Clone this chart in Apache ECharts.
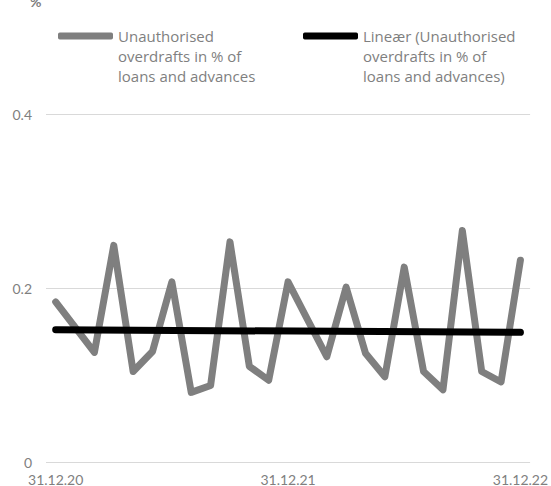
<!DOCTYPE html>
<html>
<head>
<meta charset="utf-8">
<script src="https://cdn.jsdelivr.net/npm/echarts@6/dist/echarts.min.js"></script>
<style>
  html, body { margin: 0; padding: 0; background: #fff; }
  #chart { width: 551px; height: 486px; }
</style>
</head>
<body>
<div id="chart"></div>
<script>
// month-end dates, Dec 2020 .. Dec 2022
const categories = [
  '31.12.20', '31.01.21', '28.02.21', '31.03.21', '30.04.21', '31.05.21', '30.06.21',
  '31.07.21', '31.08.21', '30.09.21', '31.10.21', '30.11.21', '31.12.21',
  '31.01.22', '28.02.22', '31.03.22', '30.04.22', '31.05.22', '30.06.22',
  '31.07.22', '31.08.22', '30.09.22', '31.10.22', '30.11.22', '31.12.22'
];
const overdrafts = [
  0.184, 0.155, 0.126, 0.249, 0.104, 0.127, 0.207, 0.080, 0.088, 0.253, 0.110, 0.094,
  0.207, 0.164, 0.121, 0.201, 0.125, 0.098, 0.224, 0.104, 0.083, 0.266, 0.104, 0.092, 0.232
];
const trend = [0.152, null, null, null, null, null, null, null, null, null, null, null,
  null, null, null, null, null, null, null, null, null, null, null, null, 0.149];
const yTicks = [0, 0.2, 0.4];

const seriesNames = [
  'Unauthorised\noverdrafts in % of\nloans and advances',
  'Lineær (Unauthorised\noverdrafts in % of\nloans and advances)'
];

const font = 'Lato, "Open Sans", sans-serif';
const grey = '#7f7f7f';

const chart = echarts.init(document.getElementById('chart'), null, { renderer: 'svg' });

// echarts centres the legend text on the icon; two empty lines in front
// bring the first real line level with the icon
const legendBase = {
  top: -14, padding: 0,
  itemWidth: 55, itemHeight: 7,
  icon: 'roundRect',
  selectedMode: false,
  formatter: (name) => '\n\n' + name,
  textStyle: {
    color: grey,
    fontFamily: '"Open Sans", sans-serif',
    fontSize: 15,
    lineHeight: 20
  }
};

chart.setOption({
  animation: false,
  title: {
    text: '%',
    left: 25,
    top: -11,
    textStyle: { color: grey, fontFamily: font, fontSize: 14, fontWeight: 'bold' }
  },
  legend: [
    Object.assign({}, legendBase, { data: [seriesNames[0]], left: 58 }),
    Object.assign({}, legendBase, { data: [seriesNames[1]], left: 303 })
  ],
  grid: { left: 46, right: 17, top: 114, bottom: 24, containLabel: false },
  xAxis: {
    type: 'category',
    data: categories,
    boundaryGap: true,
    axisLine: { show: false },
    axisTick: { show: false },
    axisLabel: {
      interval: 11,
      color: grey,
      fontFamily: font,
      fontSize: 14,
      margin: 10
    }
  },
  yAxis: {
    type: 'value',
    min: yTicks[0],
    max: yTicks[yTicks.length - 1],
    interval: 0.2,
    axisLine: { show: false },
    axisTick: { show: false },
    axisLabel: {
      color: grey,
      fontFamily: font,
      fontSize: 14,
      margin: 14
    },
    splitLine: { lineStyle: { color: '#d9d9d9', width: 1 } }
  },
  series: [
    {
      name: seriesNames[0],
      type: 'line',
      data: overdrafts,
      showSymbol: false,
      symbol: 'none',
      lineStyle: { color: grey, width: 7, cap: 'round', join: 'round' },
      itemStyle: { color: grey }
    },
    {
      name: seriesNames[1],
      type: 'line',
      data: trend,
      connectNulls: true,
      showSymbol: false,
      symbol: 'none',
      lineStyle: { color: '#000', width: 7, cap: 'round' },
      itemStyle: { color: '#000' },
      z: 3
    }
  ]
});
</script>
</body>
</html>
